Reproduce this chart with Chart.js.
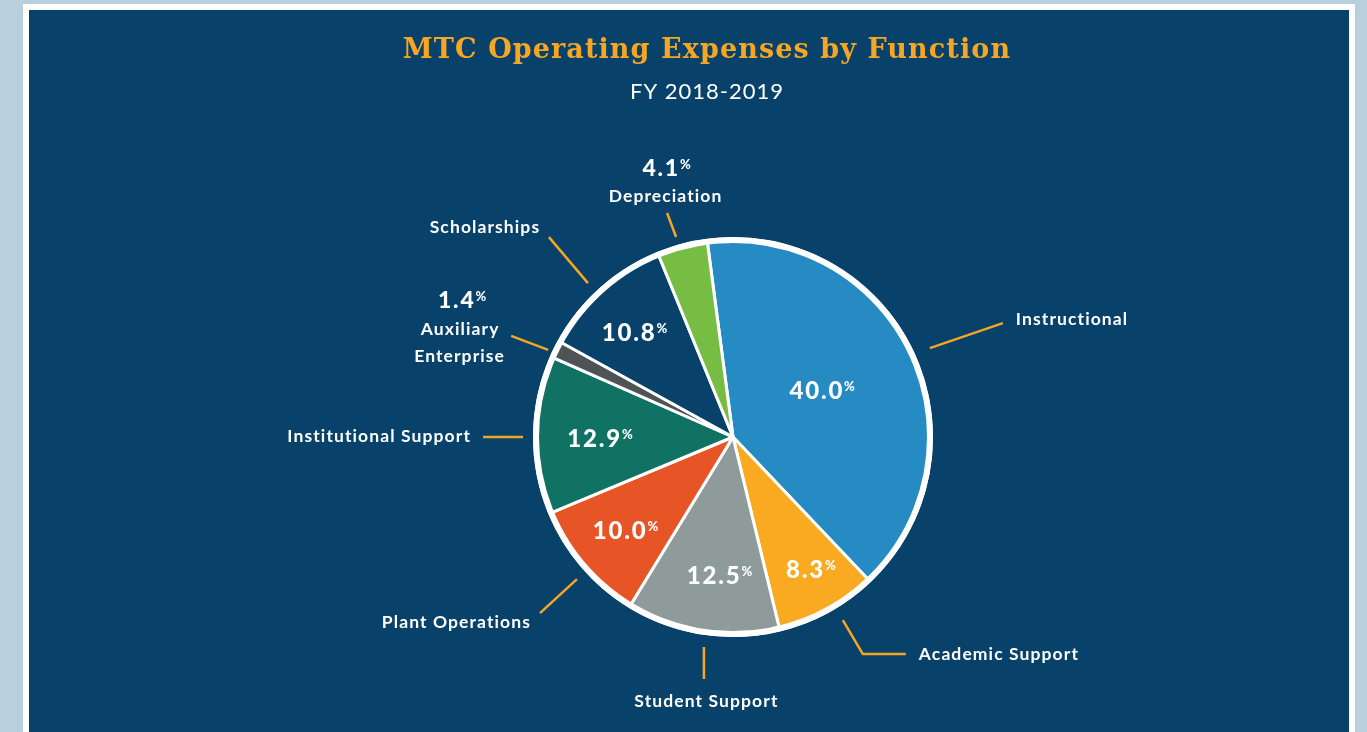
<!DOCTYPE html>
<html>
<head>
<meta charset="utf-8">
<title>MTC Operating Expenses by Function</title>
<script src="https://cdn.jsdelivr.net/npm/chart.js@4"></script>
<style>
  html, body { margin: 0; padding: 0; }
  body { width: 1367px; height: 732px; background: #b8d0dc; position: relative; overflow: hidden; }
  #frame { position: absolute; left: 23px; top: 4px; width: 1332px; height: 740px; background: #ffffff; }
  #panel { position: absolute; left: 29px; top: 10px; width: 1320px; height: 740px; background: #08426a; }
  #pie { position: absolute; left: 0; top: 0; }
</style>
</head>
<body>
<div id="frame"></div>
<div id="panel"></div>
<canvas id="pie" width="1367" height="732"></canvas>
<script>
const chartTitle = 'MTC Operating Expenses by Function';
const chartSubtitle = 'FY 2018-2019';
const categories = ['Instructional', 'Academic Support', 'Student Support', 'Plant Operations',
  'Institutional Support', 'Auxiliary Enterprise', 'Scholarships', 'Depreciation'];
const labelLines = [['Instructional'], ['Academic Support'], ['Student Support'], ['Plant Operations'],
  ['Institutional Support'], ['Auxiliary', 'Enterprise'], ['Scholarships'], ['Depreciation']];
const shares = [40.0, 8.3, 12.5, 10.0, 12.9, 1.4, 10.8, 4.1];

const sliceColors = ['#258bc2', '#f9aa21', '#8f9b9a', '#e75526', '#107262', '#4e5455', '#08426a', '#78bd43'];
const GOLD = '#f6a623';
const FONT = 'Lato, "Noto Sans", sans-serif';

// label placement per slice: value inside (radius fraction + angle tweak) or outside,
// leader line (gap from rim, angle tweak, vector, elbow) and text offsets from leader end
const callouts = [
  { vIn: [0.503, -2.1], gap: 16, a0: 1.2, vec: [73, -25], elbow: 0, align: 'left', txt: [[13, 2]] },
  { vIn: [0.769, -1.9], gap: 13.5, a0: -2.4, vec: [20, 34], elbow: 43, align: 'left', txt: [[13, 6]] },
  { vIn: [0.696, -3.3], gap: 12, a0: -1.0, vec: [0, 32], elbow: 0, align: 'center', txt: [[2.5, 28]] },
  { vIn: [0.712, -0.4], gap: 11, a0: -1.7, vec: [-37, 34], elbow: 0, align: 'right', txt: [[-9, 15]] },
  { vIn: [0.665, -1.0], gap: 10, a0: -0.6, vec: [-40, 0], elbow: 0, align: 'right', txt: [[-12, 5]] },
  { vOut: [-49, -28], gap: 4.4, a0: -1.1, vec: [-37, -14], elbow: 0, align: 'center', txt: [[-51, -1], [-51.5, 26]] },
  { vIn: [0.718, -1.6], gap: 11.5, a0: -1.6, vec: [-39, -46], elbow: 0, align: 'center', txt: [[-64, -4]] },
  { vOut: [-0.5, -37], gap: 8, a0: -1.0, vec: [-9, -24], elbow: 0, align: 'center', txt: [[-1.5, -11]] },
];

function drawValue(ctx, value, cx, baseline, size) {
  const num = value.toFixed(1);
  const small = Math.round(size * 0.56);
  ctx.letterSpacing = '1.8px';
  ctx.font = `900 ${size}px ${FONT}`;
  const w1 = ctx.measureText(num).width;
  ctx.letterSpacing = '0px';
  ctx.font = `900 ${small}px ${FONT}`;
  const w2 = ctx.measureText('%').width;
  const left = cx - (w1 + w2) / 2;
  ctx.textAlign = 'left';
  ctx.textBaseline = 'alphabetic';
  ctx.fillStyle = '#ffffff';
  ctx.letterSpacing = '1.8px';
  ctx.font = `900 ${size}px ${FONT}`;
  ctx.fillText(num, left, baseline);
  ctx.letterSpacing = '0px';
  ctx.font = `900 ${small}px ${FONT}`;
  ctx.fillText('%', left + w1, baseline - 0.72 * size + 0.72 * small);
}

const calloutPlugin = {
  id: 'callouts',
  afterDatasetsDraw(chart) {
    const ctx = chart.ctx;
    const arcs = chart.getDatasetMeta(0).data;
    const cx = arcs[0].x, cy = arcs[0].y;
    const edge = arcs[0].outerRadius + 1.5;
    const rad = d => d * Math.PI / 180;

    ctx.save();
    ctx.beginPath();
    ctx.arc(cx, cy, edge - 3, 0, Math.PI * 2);
    ctx.lineWidth = 6;
    ctx.strokeStyle = '#ffffff';
    ctx.stroke();

    arcs.forEach((arc, i) => {
      const c = callouts[i];
      const mid = (arc.startAngle + arc.endAngle) / 2;
      if (c.vIn) {
        const a = mid + rad(c.vIn[1]);
        const r = edge * c.vIn[0];
        drawValue(ctx, shares[i], cx + Math.cos(a) * r, cy + Math.sin(a) * r + 8.6, 24);
      }
      const a0 = mid + rad(c.a0);
      const sx = cx + Math.cos(a0) * (edge + c.gap);
      const sy = cy + Math.sin(a0) * (edge + c.gap);
      let ex = sx + c.vec[0], ey = sy + c.vec[1];
      ctx.beginPath();
      ctx.moveTo(sx, sy);
      ctx.lineTo(ex, ey);
      if (c.elbow) {
        ex += c.elbow;
        ctx.lineTo(ex, ey);
      }
      ctx.lineWidth = 2.5;
      ctx.strokeStyle = GOLD;
      ctx.stroke();

      ctx.fillStyle = '#ffffff';
      ctx.font = `bold 17.5px ${FONT}`;
      ctx.letterSpacing = '1.1px';
      ctx.textAlign = c.align;
      ctx.textBaseline = 'alphabetic';
      labelLines[i].forEach((line, j) => {
        ctx.fillText(line, ex + c.txt[j][0], ey + c.txt[j][1]);
      });
      if (c.vOut) {
        drawValue(ctx, shares[i], ex + c.vOut[0], ey + c.vOut[1], 23);
      }
    });

    // heading
    ctx.textAlign = 'center';
    ctx.textBaseline = 'alphabetic';
    ctx.fillStyle = GOLD;
    ctx.letterSpacing = '1.1px';
    ctx.font = 'bold 27px "DejaVu Serif", serif';
    ctx.fillText(chartTitle, 707, 58);
    ctx.fillStyle = '#ffffff';
    ctx.letterSpacing = '1px';
    ctx.font = `22px ${FONT}`;
    ctx.fillText(chartSubtitle, 707, 99);
    ctx.restore();
  }
};

new Chart(document.getElementById('pie'), {
  type: 'pie',
  data: {
    labels: categories,
    datasets: [{
      data: shares,
      backgroundColor: sliceColors,
      borderColor: '#ffffff',
      borderWidth: 3,
      hoverOffset: 0,
    }]
  },
  options: {
    responsive: false,
    animation: false,
    events: [],
    rotation: -7.5,
    layout: { padding: { left: 533, right: 434, top: 237, bottom: 95 } },
    plugins: {
      legend: { display: false },
      tooltip: { enabled: false },
    }
  },
  plugins: [calloutPlugin]
});
</script>
</body>
</html>
